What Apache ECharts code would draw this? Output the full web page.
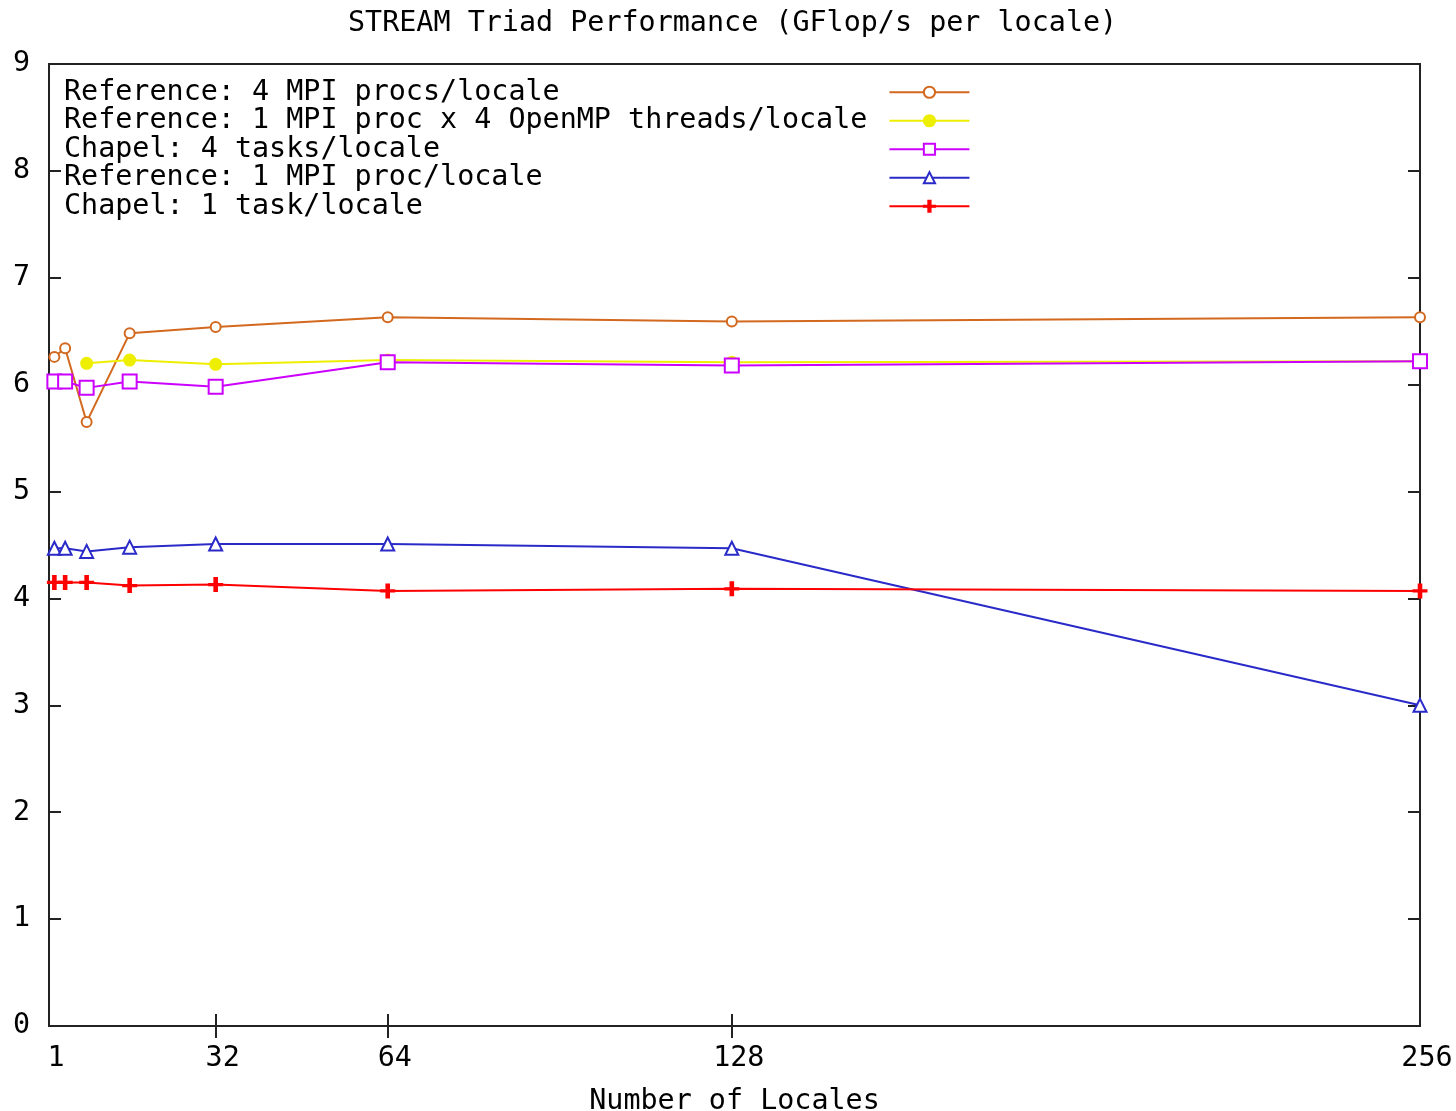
<!DOCTYPE html>
<html>
<head>
<meta charset="utf-8">
<script src="https://cdn.jsdelivr.net/npm/echarts@6/dist/echarts.min.js"></script>
<style>
  html, body { margin: 0; padding: 0; background: #fff; }
  #chart { width: 1456px; height: 1111px; }
</style>
</head>
<body>
<div id="chart"></div>
<script>
// number of locales
const locales = [2, 4, 8, 16, 32, 64, 128, 256];
const xTickLabels = [1, 32, 64, 128, 256];

// GFlop/s per locale
const ref4Mpi = [6.26, 6.34, 5.65, 6.48, 6.54, 6.63, 6.59, 6.63];
const refOpenMP = [null, null, 6.20, 6.23, 6.19, 6.23, 6.21, 6.22];
const chapel4 = [6.03, 6.03, 5.97, 6.03, 5.98, 6.21, 6.18, 6.22];
const ref1Mpi = [4.47, 4.47, 4.44, 4.48, 4.51, 4.51, 4.47, 3.00];
const chapel1 = [4.15, 4.15, 4.15, 4.12, 4.13, 4.07, 4.09, 4.07];

const names = [
  'Reference: 4 MPI procs/locale',
  'Reference: 1 MPI proc x 4 OpenMP threads/locale',
  'Chapel: 4 tasks/locale',
  'Reference: 1 MPI proc/locale',
  'Chapel: 1 task/locale'
];

const FONT = 'DejaVu Sans Mono';
const FS = 28.4;
const PLUS = 'path://M8,0 L12,0 L12,20 L8,20 Z M0,9 L20,9 L20,11 L0,11 Z';

function pairs(vals) {
  const out = [];
  vals.forEach(function (v, i) { if (v != null) out.push([locales[i], v]); });
  return out;
}

function line(name, vals, color, symbol, size) {
  return {
    name: name,
    type: 'line',
    data: pairs(vals),
    symbol: symbol,
    symbolSize: size,
    showAllSymbol: true,
    lineStyle: { color: color, width: 2 },
    itemStyle: { color: color, borderColor: color, borderWidth: 2 },
    emphasis: { disabled: true },
    animation: false
  };
}

const longest = Math.max.apply(null, names.map(function (n) { return n.length; }));

let chart = echarts.init(document.getElementById('chart'));
chart.setOption({
  backgroundColor: '#fff',
  textStyle: { fontFamily: FONT, color: '#000' },
  title: {
    text: 'STREAM Triad Performance (GFlop/s per locale)',
    left: 348,
    top: 10,
    padding: 0,
    textStyle: { fontFamily: FONT, fontSize: FS, fontWeight: 'normal', color: '#000' }
  },
  legend: {
    orient: 'vertical',
    left: 64,
    top: 78,
    padding: 0,
    align: 'right',
    itemWidth: 80,
    itemHeight: 14,
    itemGap: 0,
    selectedMode: false,
    formatter: function (n) { return n + ' '.repeat(longest - n.length + 1); },
    textStyle: { fontFamily: FONT, fontSize: FS, color: '#000', lineHeight: 28.5 }
  },
  grid: {
    left: 49, right: 36, top: 64, bottom: 85,
    outerBoundsMode: 'none',
    containLabel: false,
    show: true, borderColor: '#222', borderWidth: 2, backgroundColor: '#fff'
  },
  xAxis: [{
    type: 'value',
    min: 1,
    max: 256,
    name: 'Number of Locales',
    nameLocation: 'middle',
    nameGap: 62,
    nameTextStyle: { fontFamily: FONT, fontSize: FS, color: '#000' },
    splitLine: { show: false },
    axisLine: { show: false },
    axisTick: { inside: true, length: 12, customValues: [32, 64, 128], lineStyle: { color: '#222', width: 2 } },
    axisLabel: {
      customValues: xTickLabels,
      fontFamily: FONT, fontSize: FS, color: '#000', margin: 19,
      padding: [0, 0, 0, 14],
      showMinLabel: true, showMaxLabel: true
    }
  }, {
    type: 'value',
    position: 'top',
    min: 1,
    max: 256,
    splitLine: { show: false },
    axisLine: { show: false },
    axisTick: { inside: true, length: 12, customValues: [32, 64, 128], lineStyle: { color: '#222', width: 2 } },
    axisLabel: { show: false }
  }],
  yAxis: [{
    type: 'value',
    min: 0,
    max: 9,
    interval: 1,
    splitLine: { show: false },
    axisLine: { show: false },
    axisTick: { inside: true, length: 12, lineStyle: { color: '#222', width: 2 } },
    axisLabel: { fontFamily: FONT, fontSize: FS, color: '#000', margin: 19 }
  }, {
    type: 'value',
    position: 'right',
    min: 0,
    max: 9,
    interval: 1,
    splitLine: { show: false },
    axisLine: { show: false },
    axisTick: { inside: true, length: 12, lineStyle: { color: '#222', width: 2 } },
    axisLabel: { show: false }
  }],
  series: [
    line(names[0], ref4Mpi, '#d2691e', 'emptyCircle', 10),
    line(names[1], refOpenMP, '#eeee00', 'circle', 11),
    line(names[2], chapel4, '#cc00ff', 'emptyRect', 14),
    line(names[3], ref1Mpi, '#2a2ac8', 'emptyTriangle', 13),
    line(names[4], chapel1, '#ff0000', PLUS, 13)
  ]
});
</script>
</body>
</html>
